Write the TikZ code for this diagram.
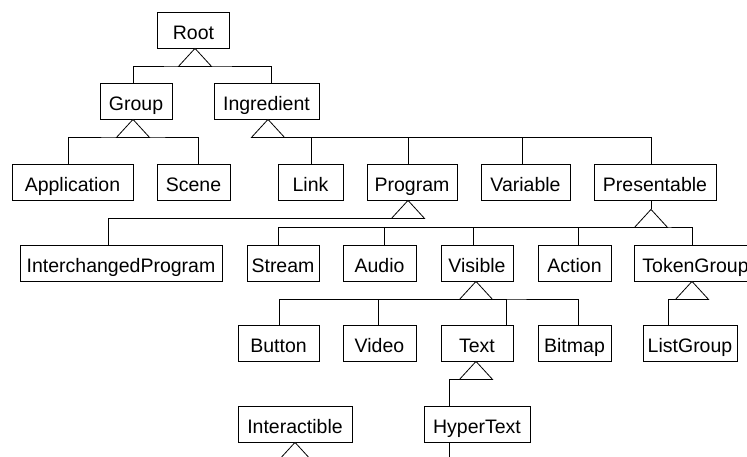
\documentclass[tikz,border=0pt]{standalone}
\usepackage{fontspec}
\setmainfont{Liberation Sans}
\usetikzlibrary{positioning}

\begin{document}
\begin{tikzpicture}[x=1pt,y=-1pt,line width=0.8pt,
    cls/.style={draw,rectangle,minimum height=36pt,inner sep=0pt,
        text height=20pt,text depth=1.5pt,font=\fontsize{19.5}{22}\selectfont},
    isa/.pic={\draw[fill=white] (0,0) -- (-16.5,18) -- (16.5,18) -- cycle;
        \coordinate (-b) at (0,18);}]

    \useasboundingbox (0,0) rectangle (747,456);
    \clip (0,0) rectangle (747,456);

    \node[cls,minimum width=72pt]  (root)        at (193.5,30) {Root};
    \node[cls,minimum width=72pt]  (group)       at (136,101)  {Group};
    \node[cls,minimum width=105pt] (ingredient)  at (266.5,101) {Ingredient};

    \node[cls,minimum width=121pt] (application) at (72.5,182)  {Application};
    \node[cls,minimum width=73pt]  (scene)       at (193.5,182) {Scene};
    \node[cls,minimum width=65pt]  (link)        at (310.5,182) {Link};
    \node[cls,minimum width=90pt]  (program)     at (412,182)   {Program};
    \node[cls,minimum width=89pt]  (variable)    at (525.5,182) {Variable};
    \node[cls,minimum width=122pt] (presentable) at (655,182)   {Presentable};

    \node[cls,minimum width=202pt] (interchanged) at (121,263)  {InterchangedProgram};
    \node[cls,minimum width=72pt]  (stream)      at (283,263)   {Stream};
    \node[cls,minimum width=73pt]  (audio)       at (379.5,263) {Audio};
    \node[cls,minimum width=72pt]  (visible)     at (477,263)   {Visible};
    \node[cls,minimum width=73pt]  (action)      at (574.5,263) {Action};
    \node[cls,minimum width=123pt] (tokengroup)  at (695.5,263) {TokenGroup};

    \node[cls,minimum width=81pt]  (button)      at (278.5,343) {Button};
    \node[cls,minimum width=73pt]  (video)       at (379.5,343) {Video};
    \node[cls,minimum width=72pt]  (text)        at (477,343)   {Text};
    \node[cls,minimum width=73pt]  (bitmap)      at (574.5,343) {Bitmap};
    \node[cls,minimum width=94pt]  (listgroup)   at (690,343)   {ListGroup};

    \node[cls,minimum width=114pt] (interactible) at (295,424)  {Interactible};
    \node[cls,minimum width=106pt] (hypertext)   at (477,424)   {HyperText};

    % inheritance buses
    \draw ([xshift=-3pt]group.north) |- (193.5,66) -| ([xshift=4.5pt]ingredient.north);
    \draw ([xshift=-4.5pt]application.north) |- (133,137) -| ([xshift=4.5pt]scene.north);
    \draw (268,137) -| ([xshift=-4pt]presentable.north);
    \foreach \n/\s in {link/0.5,program/-4,variable/-3.5}
        \draw ([xshift=\s pt]\n.north) |- (268,137);
    \draw ([xshift=-13pt]interchanged.north) |- (408,218);
    \draw ([xshift=-4pt]presentable.south) -- +(0,9);
    \draw ([xshift=-5pt]stream.north) |- (651,227) -| ([xshift=-3.5pt]tokengroup.north);
    \foreach \n/\s in {audio/4.5,visible/-4,action/3.5}
        \draw ([xshift=\s pt]\n.north) |- (651,227);
    \draw ([xshift=0.5pt]button.north) |- (476,299) -| ([xshift=3.5pt]bitmap.north);
    \foreach \n/\s in {video/-1.5,text/29}
        \draw ([xshift=\s pt]\n.north) |- (476,299);
    \draw ([xshift=-22pt]listgroup.north) |- (692,299);
    \draw ([xshift=-28pt]hypertext.north) |- (476,379);
    \draw ([xshift=-28pt]hypertext.south) -- +(0,20);

    % triangles
    \pic (rt) at ([xshift=1.5pt]root.south) {isa};
    \pic (gr) at ([xshift=-3pt]group.south) {isa};
    \pic (in) at ([xshift=1.5pt]ingredient.south) {isa};
    \pic (pg) at ([xshift=-4pt]program.south) {isa};
    \pic (pr) at ([xshift=-4pt,yshift=-9pt]presentable.south) {isa};
    \pic (vi) at ([xshift=-1pt]visible.south) {isa};
    \pic (tg) at ([xshift=-3.5pt]tokengroup.south) {isa};
    \pic (tx) at ([xshift=-1pt]text.south) {isa};
    \pic (ia) at (interactible.south) {isa};
\end{tikzpicture}
\end{document}
